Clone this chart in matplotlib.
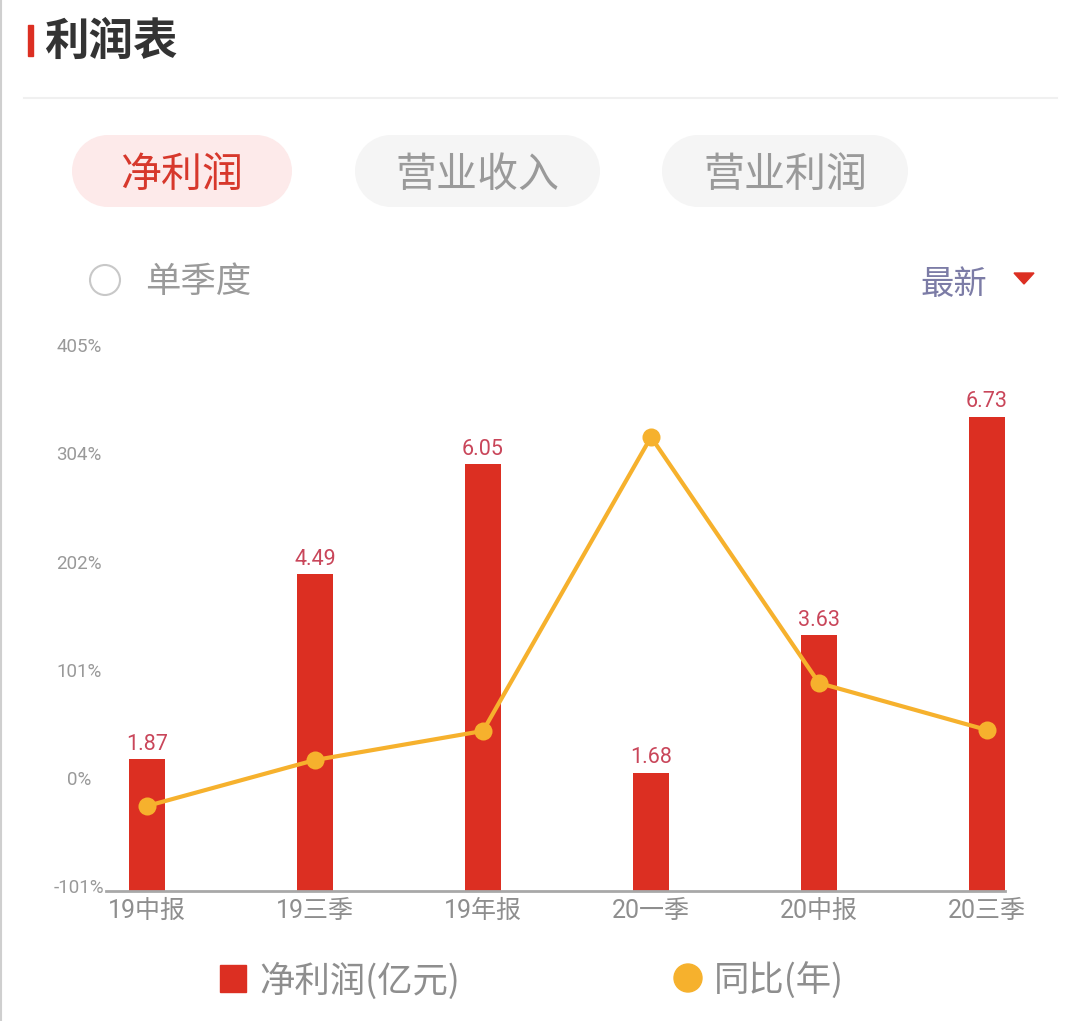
'''
Net profit bars with YoY growth line, phone-app style card.
'''

#import
import numpy as np
import matplotlib
matplotlib.use('Agg')
import matplotlib.pyplot as plt
from matplotlib.patches import Rectangle, Circle, Polygon

plt.rcParams['font.family'] = ['Noto Sans CJK SC', 'DejaVu Sans']
num_font = ['Roboto', 'Noto Sans CJK SC']

#------
#data
periods = ['19中报', '19三季', '19年报', '20一季', '20中报', '20三季']
net_profit = [1.87, 4.49, 6.05, 1.68, 3.63, 6.73]      # 亿元
yoy_pct = [-26.2, 16.8, 44.0, 318.9, 88.8, 44.9]        # %
pct_ticks = [-101, 0, 101, 202, 304, 405]
tabs = ['净利润', '营业收入', '营业利润']

#------
#colours
red = '#dc2f22'
orange = '#f6b12d'
grey_txt = '#8e8e8e'

W, H = 1080, 1021
fig = plt.figure(figsize=(W / 100, H / 100), dpi=100)
fig.patch.set_facecolor('white')

#background layer in pixel coordinates
bg = fig.add_axes([0, 0, 1, 1])
bg.set_xlim(0, W)
bg.set_ylim(H, 0)
bg.axis('off')

#left screen border + header
bg.plot([1, 1], [0, H], color='#cfcfcf', lw=1.5)
bg.add_patch(Rectangle((28, 25), 5, 31, color=red))
bg.text(44, 42, '利润表', fontsize=32, fontweight='bold', color='#333333',
        va='center', ha='left')
bg.plot([24, 1057], [98, 98], color='#f0f0f0', lw=1.5)

#tab pills
pills = [(72, 292), (355, 600), (662, 908)]
r = 36
for i, (x0, x1) in enumerate(pills):
    fc = '#fdeaea' if i == 0 else '#f5f5f5'
    tc = '#d7382c' if i == 0 else '#9a9a9a'
    bg.add_patch(Rectangle((x0 + r, 171 - r), x1 - x0 - 2 * r, 2 * r, fc=fc, ec='none'))
    bg.add_patch(Circle((x0 + r, 171), r, fc=fc, ec='none'))
    bg.add_patch(Circle((x1 - r, 171), r, fc=fc, ec='none'))
    bg.text((x0 + x1) / 2, 175, tabs[i], fontsize=29.5, color=tc,
            ha='center', va='center')

#single-quarter radio + latest dropdown
bg.add_patch(Circle((105, 280), 15, fc='white', ec='#c8c8c8', lw=1.5))
bg.text(145, 282, '单季度', fontsize=25.5, color='#9a9a9a', va='center', ha='left')
bg.text(954, 284, '最新', fontsize=24, color='#7c7ca6', va='center', ha='center')
bg.add_patch(Polygon([[1014, 273], [1034, 273], [1024, 284]], closed=True,
                     color=red))

#legend
bg.add_patch(Rectangle((220, 965), 26, 27, color=red))
bg.text(259, 981, '净利润(亿元)', fontsize=25.5, color=grey_txt, va='center', ha='left')
bg.add_patch(Circle((688, 978), 14, color=orange))
bg.text(714, 981, '同比(年)', fontsize=25.5, color=grey_txt, va='center', ha='left')

#------
#main chart
left, right, top, bottom = 106, 1005, 345, 891
ax = fig.add_axes([left / W, 1 - bottom / H, (right - left) / W, (bottom - top) / H])
ax.patch.set_alpha(0)
x = np.arange(len(periods))
ax.bar(x, net_profit, width=0.214, color=red, zorder=2)
ax.set_ylim(0, 7.745)
ax.set_xlim(-0.244, 5.107)
for xi, v in zip(x, net_profit):
    ax.annotate(f'{v:.2f}', (xi, v), xytext=(0, 3), textcoords='offset points',
                ha='center', va='bottom', fontsize=15.5, color='#c9465a',
                family=num_font)

for s in ['top', 'right', 'left']:
    ax.spines[s].set_visible(False)
ax.spines['bottom'].set_color('#a8a8a8')
ax.spines['bottom'].set_linewidth(2)
ax.set_yticks([])
ax.set_xticks(x)
ax.set_xticklabels(periods, fontsize=18, color=grey_txt, family=num_font)
ax.tick_params(axis='x', length=0, pad=6)

#yoy line on twin axis, labels on the left
ax2 = ax.twinx()
ax2.plot(x, yoy_pct, color=orange, lw=3, marker='o', markersize=13,
         markeredgewidth=0, zorder=3)
ax2.set_ylim(-105.7, 405)
ax2.set_yticks(pct_ticks)
ax2.set_yticklabels([f'{t}%' for t in pct_ticks], fontsize=13.5, color='#999999',
                    family=num_font)
ax2.yaxis.set_ticks_position('left')
ax2.tick_params(axis='y', length=0, pad=19.5)
for lab in ax2.get_yticklabels():
    lab.set_horizontalalignment('center')
for s in ax2.spines.values():
    s.set_visible(False)

fig.savefig('out.png', dpi=100, facecolor='white')
